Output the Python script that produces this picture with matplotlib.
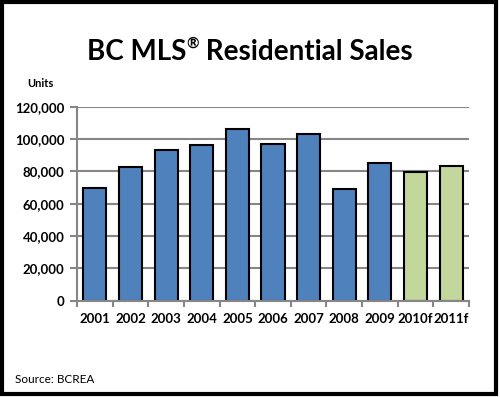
import matplotlib.pyplot as plt
from matplotlib.patches import Rectangle
from matplotlib.ticker import FuncFormatter
import numpy as np

years = ['2001', '2002', '2003', '2004', '2005', '2006', '2007', '2008', '2009', '2010f', '2011f']
sales = [69900, 82700, 93200, 96500, 106400, 97100, 103300, 69300, 85400, 79800, 83300]
forecast = [False] * 9 + [True] * 2

plt.rcParams['font.family'] = ['Lato', 'DejaVu Sans']

fig = plt.figure(figsize=(5, 3.97), dpi=100)
ax = fig.add_axes([0.154, 0.2426, 0.784, 0.4886])

x = np.arange(len(years))
colors = ['#C3D69B' if f else '#4F81BD' for f in forecast]
ax.bar(x, sales, width=0.65, color=colors, edgecolor='black', linewidth=1.5, zorder=3)

ax.set_xlim(-0.5, len(years) - 0.5)
ax.set_ylim(0, 120000)
ax.set_yticks(np.arange(0, 120001, 20000))
ax.yaxis.set_major_formatter(FuncFormatter(lambda v, p: f'{int(v):,}'))
ax.set_xticks(x)
ax.set_xticklabels(years)
ax.set_xticks(np.arange(-0.5, len(years)), minor=True)

ax.grid(axis='y', color='#868686', linewidth=1.5, zorder=0)
for s in ['top', 'right']:
    ax.spines[s].set_visible(False)
for s in ['left', 'bottom']:
    ax.spines[s].set_color('#868686')
    ax.spines[s].set_linewidth(1.5)
    ax.spines[s].set_zorder(4)

ax.tick_params(axis='x', which='major', length=0, pad=9)
ax.tick_params(axis='x', which='minor', length=4, width=1.5, color='#868686')
ax.tick_params(axis='y', length=5, width=1.5, color='#868686', pad=4)
for lbl in ax.get_xticklabels() + ax.get_yticklabels():
    lbl.set_fontweight('bold')
    lbl.set_fontsize(9.5)

# title in three pieces so the ® sits small and raised
renderer = fig.canvas.get_renderer()
parts = [('BC MLS', 20, 0.0), ('®', 11, 0.022), (' Residential Sales', 20, 0.0)]
texts = []
for s, size, dy in parts:
    t = fig.text(0, 0.868 + dy, s, ha='left', va='center', fontsize=size, fontweight='bold')
    texts.append(t)
widths = [t.get_window_extent(renderer).width / fig.bbox.width for t in texts]
xpos = 0.5 - sum(widths) / 2
for t, w in zip(texts, widths):
    t.set_x(xpos)
    xpos += w

fig.text(0.081, 0.79, 'Units', ha='center', va='center', fontsize=8, fontweight='bold')
fig.text(0.03, 0.043, 'Source: BCREA', ha='left', va='center', fontsize=8.5)

fig.patches.append(Rectangle((0.004, 0.008), 0.988, 0.986, transform=fig.transFigure,
                             fill=False, edgecolor='black', linewidth=3))

fig.savefig('out.png', dpi=100)
